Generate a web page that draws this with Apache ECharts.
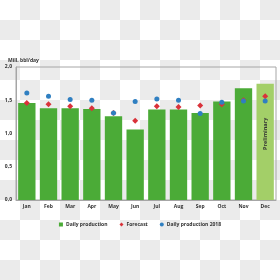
<!DOCTYPE html>
<html><head><meta charset="utf-8">
<script src="https://cdn.jsdelivr.net/npm/echarts@6/dist/echarts.min.js"></script>
<style>
html,body{margin:0;padding:0;width:280px;height:280px;overflow:hidden;
background:conic-gradient(#ebebeb 0 25%, #ffffff 0 50%, #ebebeb 0 75%, #ffffff 0);
background-size:40px 40px;}
#c{width:280px;height:280px;}
</style></head>
<body><div id="c"></div>
<script>
var categories = ['Jan','Feb','Mar','Apr','May','Jun','Jul','Aug','Sep','Oct','Nov','Dec'];
var dailyProduction = [1.46,1.38,1.38,1.37,1.26,1.06,1.36,1.36,1.31,1.48,1.68,1.75];
var forecast = [1.46,1.44,1.41,1.38,1.31,1.19,1.41,1.40,1.42,1.44,1.50,1.56];
var production2018 = [1.61,1.56,1.51,1.50,1.31,1.48,1.52,1.50,1.30,1.47,1.49,1.49];
var yTicks = ['0,0','0,5','1,0','1,5','2,0'];
var unitLabel = 'Mill. bbl/day';
var prelimLabel = 'Preliminary';

var FONT = 'Open Sans';
var barData = dailyProduction.map(function(v,i){
  if (i === categories.length-1) {
    return {value:v, itemStyle:{color:'#a3cf68'},
      label:{show:true, position:'inside', rotate:90, formatter:prelimLabel,
        color:'#333', fontSize:5.5, fontFamily:FONT, fontWeight:'bold', offset:[8,0]}};
  }
  return v;
});

var chart = echarts.init(document.getElementById('c'), null, {renderer:'canvas'});
chart.setOption({
  backgroundColor:'transparent',
  animation:false,
  title:{text:unitLabel, left:3, top:53,
    textStyle:{fontSize:5, fontWeight:'bold', color:'#333', fontFamily:FONT}},
  grid:{left:16, right:4, top:67, bottom:80, show:true, borderColor:'#a6a6a6', borderWidth:1},
  legend:{top:217, left:'center', itemWidth:4, itemHeight:4, itemGap:12,
    textStyle:{fontSize:5, fontWeight:'bold', color:'#333', fontFamily:FONT, padding:[0,0,0,-2]},
    data:[{name:'Daily production', icon:'rect'},{name:'Forecast', icon:'diamond'},{name:'Daily production 2018', icon:'circle'}]},
  xAxis:{type:'category', data:categories,
    axisLine:{lineStyle:{color:'#a6a6a6'}}, axisTick:{show:false},
    axisLabel:{fontSize:5, fontWeight:'bold', color:'#333', fontFamily:FONT, margin:4}},
  yAxis:{type:'value', min:0, max:2, interval:0.5,
    axisLine:{show:true, lineStyle:{color:'#a6a6a6'}}, axisTick:{show:false},
    splitLine:{show:false},
    axisLabel:{fontSize:5, fontWeight:'bold', color:'#333', fontFamily:FONT, margin:4,
      formatter:function(v){ return yTicks[Math.round(v/0.5)]; }}},
  series:[
    {name:'Daily production', type:'bar', data:barData, barCategoryGap:'20%',
      itemStyle:{color:'#4bab37'}},
    {name:'Forecast', type:'line', data:forecast, symbol:'diamond', symbolSize:6,
      lineStyle:{width:0, opacity:0}, itemStyle:{color:'#d9323a'}},
    {name:'Daily production 2018', type:'line', data:production2018, symbol:'circle', symbolSize:5,
      lineStyle:{width:0, opacity:0}, itemStyle:{color:'#2f7fc1'}}
  ]
});
</script></body></html>
